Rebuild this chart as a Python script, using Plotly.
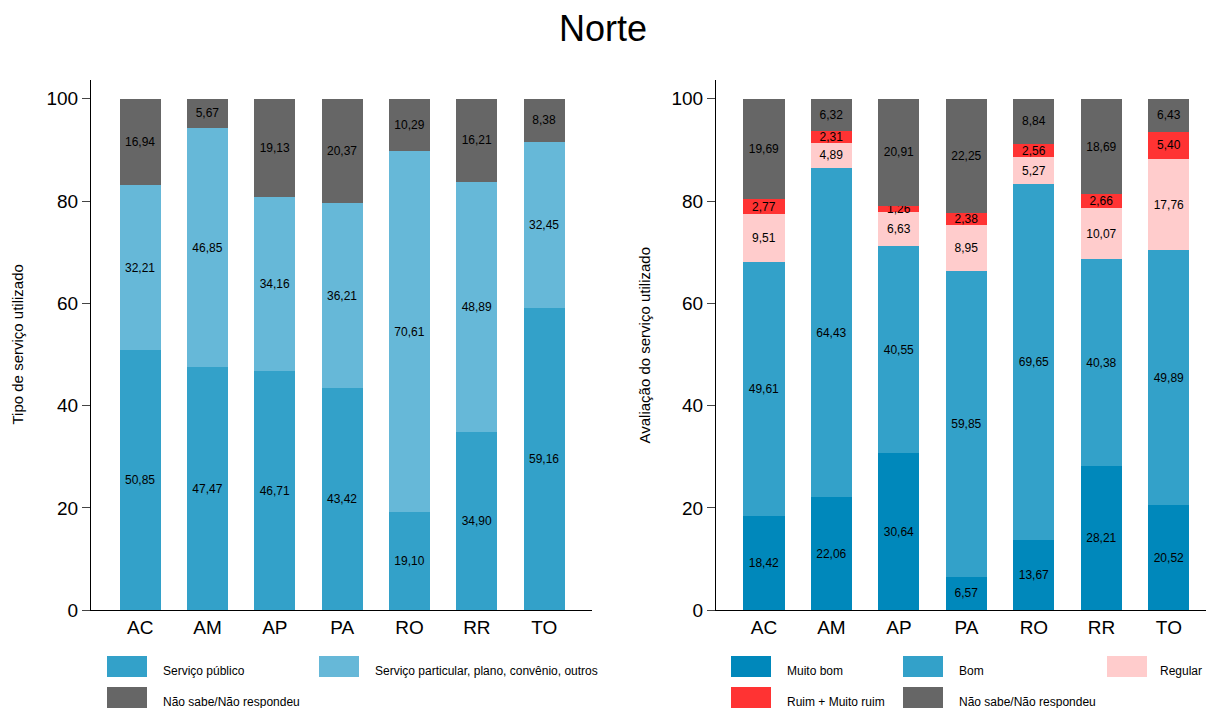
import plotly.graph_objects as go

states = ["AC", "AM", "AP", "PA", "RO", "RR", "TO"]

# Left chart: Tipo de serviço utilizado
publico = [50.85, 47.47, 46.71, 43.42, 19.10, 34.90, 59.16]
particular = [32.21, 46.85, 34.16, 36.21, 70.61, 48.89, 32.45]
ns_tipo = [16.94, 5.67, 19.13, 20.37, 10.29, 16.21, 8.38]

# Right chart: Avaliação do serviço utilizado
muito_bom = [18.42, 22.06, 30.64, 6.57, 13.67, 28.21, 20.52]
bom = [49.61, 64.43, 40.55, 59.85, 69.65, 40.38, 49.89]
regular = [9.51, 4.89, 6.63, 8.95, 5.27, 10.07, 17.76]
ruim = [2.77, 2.31, 1.26, 2.38, 2.56, 2.66, 5.40]
ns_aval = [19.69, 6.32, 20.91, 22.25, 8.84, 18.69, 6.43]

left_series = [
    ("Serviço público", publico, "#33A1C9"),
    ("Serviço particular, plano, convênio, outros", particular, "#66B8D8"),
    ("Não sabe/Não respondeu", ns_tipo, "#666666"),
]
right_series = [
    ("Muito bom", muito_bom, "#0088BB"),
    ("Bom", bom, "#33A1C9"),
    ("Regular", regular, "#FFCCCC"),
    ("Ruim + Muito ruim", ruim, "#FF3333"),
    ("Não sabe/Não respondeu", ns_aval, "#666666"),
]

FONT = "Liberation Sans, Arial, sans-serif"
W = 1206
H = 708      # target picture height used for positioning
FIG_H = 718  # layout height
fig = go.Figure()

def add_bars(series, xa, ya):
    for name, vals, col in series:
        fig.add_trace(go.Bar(
            x=states, y=vals, name=name, marker=dict(color=col, line=dict(width=0)),
            width=0.61, xaxis=xa, yaxis=ya,
            texttemplate="%{y:.2f}", textposition="inside", insidetextanchor="middle",
            textangle=0, textfont=dict(size=12, color="black", family=FONT),
            showlegend=False, hoverinfo="x+y+name",
        ))

add_bars(left_series, "x", "y")
add_bars(right_series, "x2", "y2")

axis_common = dict(showline=True, linecolor="black", linewidth=1, showgrid=False, zeroline=False,
                   tickfont=dict(size=19, color="black", family=FONT))
fig.update_layout(
    width=W, height=FIG_H, autosize=False,
    margin=dict(l=0, r=0, t=0, b=0),
    paper_bgcolor="white", plot_bgcolor="white",
    barmode="stack", separators=",.",
    uniformtext=dict(minsize=12, mode="show"),
    font=dict(family=FONT, color="black"),
    xaxis=dict(domain=[91/W, 592/W], range=[-0.73, 6.71], ticks="", anchor="y", **axis_common),
    yaxis=dict(domain=[1-611/H, 1-80/H], range=[0, 103.7], ticks="outside", ticklen=8,
               tickvals=[0, 20, 40, 60, 80, 100], anchor="x", **axis_common),
    xaxis2=dict(domain=[716/W, 1.0], range=[-0.71, 6.55], ticks="", anchor="y2", **axis_common),
    yaxis2=dict(domain=[1-611/H, 1-80/H], range=[0, 103.7], ticks="outside", ticklen=8,
                tickvals=[0, 20, 40, 60, 80, 100], anchor="x2", **axis_common),
    title=dict(text="Norte", x=0.5, xanchor="center", y=1-28/H, yanchor="middle",
               font=dict(size=36, color="black", family=FONT)),
)

# Axis titles
fig.add_annotation(text="Tipo de serviço utilizado", x=18/W, y=1-345/H, xref="paper", yref="paper",
                   textangle=-90, showarrow=False, font=dict(size=15, color="black", family=FONT),
                   xanchor="center", yanchor="middle")
fig.add_annotation(text="Avaliação do serviço utilizado", x=645/W, y=1-345/H, xref="paper", yref="paper",
                   textangle=-90, showarrow=False, font=dict(size=15, color="black", family=FONT),
                   xanchor="center", yanchor="middle")

# Manual legends: (rect left, rect top, text left)
def legend(items, positions):
    for (name, _, col), (x0, y0, tx) in zip(items, positions):
        fig.add_shape(type="rect", xref="paper", yref="paper",
                      x0=x0/W, x1=(x0+40)/W, y0=1-(y0+21)/H, y1=1-y0/H,
                      fillcolor=col, line=dict(width=0))
        fig.add_annotation(text=name, x=tx/W, y=1-(y0+15)/H, xref="paper", yref="paper",
                           showarrow=False, xanchor="left", yanchor="middle",
                           font=dict(size=12, color="black", family=FONT))

legend(left_series, [(107, 657, 161), (319, 657, 373), (107, 688, 161)])
legend(right_series, [(731, 657, 785), (903, 657, 957), (1107, 657, 1158),
                      (731, 688, 785), (903, 688, 957)])

post = (
    "var d=document.documentElement, b=document.body;"
    "d.style.margin='0';d.style.padding='0';d.style.overflow='hidden';"
    "b.style.margin='0';b.style.padding='0';b.style.overflow='hidden';"
)
fig.write_html("out.html", post_script=post,
               config={"displayModeBar": False, "responsive": False})
